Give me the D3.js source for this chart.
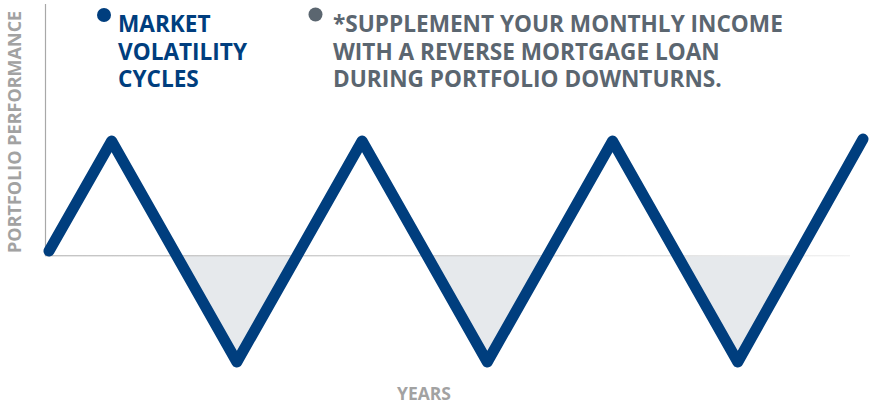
<!DOCTYPE html>
<html>
<head>
<meta charset="utf-8">
<script src="https://cdn.jsdelivr.net/npm/d3@7"></script>
<style>
  html, body { margin: 0; padding: 0; background: #fff; }
  svg { display: block; font-family: "Open Sans", sans-serif; }
</style>
</head>
<body>
<div id="chart"></div>
<script>
// ---- data ----
const years = [0, 1, 3, 5, 7, 9, 11, 13];
const performance = [0.4, 11.4, -10.7, 11.4, -10.7, 11.4, -10.7, 11.6];
const legendMarket = ["MARKET", "VOLATILITY", "CYCLES"];
const legendSupplement = ["*SUPPLEMENT YOUR MONTHLY INCOME", "WITH A REVERSE MORTGAGE LOAN", "DURING PORTFOLIO DOWNTURNS."];
const yAxisLabel = "PORTFOLIO PERFORMANCE";
const xAxisLabel = "YEARS";

const W = 872, H = 403;
const BLUE = "#003e7e", GREY_TXT = "#5b6670", AXIS_TXT = "#a2a2a2";

const data = years.map((x, i) => ({ x, y: performance[i] }));

const svg = d3.select("#chart").append("svg").attr("width", W).attr("height", H);

const x = d3.scaleLinear().domain([0, 13]).range([49, 863]);
const y = d3.scaleLinear().domain([-10.7, 11.4]).range([362, 141]);

const defs = svg.append("defs");
defs.append("clipPath").attr("id", "below")
  .append("rect").attr("x", 0).attr("y", y(0)).attr("width", W).attr("height", H - y(0));
const grad = defs.append("linearGradient").attr("id", "baseGrad")
  .attr("x1", "0%").attr("x2", "100%").attr("y1", "0%").attr("y2", "0%");
grad.append("stop").attr("offset", "0%").attr("stop-color", "#c4c4c4");
grad.append("stop").attr("offset", "55%").attr("stop-color", "#d4d4d4");
grad.append("stop").attr("offset", "100%").attr("stop-color", "#f2f2f2");

// shaded downturn areas
const area = d3.area().x(d => x(d.x)).y0(y(0)).y1(d => y(d.y));
svg.append("path").datum(data)
  .attr("d", area)
  .attr("fill", "#e6e9ec")
  .attr("clip-path", "url(#below)");

// baseline (x axis)
svg.append("rect")
  .attr("x", 45).attr("y", y(0)).attr("width", 805).attr("height", 1.4)
  .attr("fill", "url(#baseGrad)");

// y axis line
svg.append("line")
  .attr("x1", 45.5).attr("x2", 45.5).attr("y1", 4).attr("y2", y(0) + 1)
  .attr("stroke", "#a8a8a8").attr("stroke-width", 1.2);

// main line
const line = d3.line().x(d => x(d.x)).y(d => y(d.y));
svg.append("path").datum(data)
  .attr("d", line)
  .attr("fill", "none")
  .attr("stroke", BLUE)
  .attr("stroke-width", 11)
  .attr("stroke-linejoin", "round")
  .attr("stroke-linecap", "round");

// axis labels
svg.append("text")
  .attr("transform", `translate(20.5, ${y(0) - 2}) rotate(-90)`)
  .attr("text-anchor", "start")
  .attr("font-size", 18).attr("font-weight", 700)
  .attr("fill", AXIS_TXT)
  .text(yAxisLabel);

svg.append("text")
  .attr("x", 424).attr("y", 400)
  .attr("text-anchor", "middle")
  .attr("font-size", 17.5).attr("font-weight", 700)
  .attr("fill", AXIS_TXT)
  .text(xAxisLabel);

// legends
function legend(cx, cy, color, tx, lines, textColor) {
  svg.append("circle").attr("cx", cx).attr("cy", cy).attr("r", 7).attr("fill", color);
  lines.forEach((s, i) => {
    svg.append("text")
      .attr("x", tx).attr("y", 32 + i * 27.5)
      .attr("font-size", 22.6).attr("font-weight", 700).attr("fill", textColor)
      .text(s);
  });
}
legend(104, 15, BLUE, 118, legendMarket, BLUE);
legend(315.5, 14.5, GREY_TXT, 333, legendSupplement, GREY_TXT);
</script>
</body>
</html>
